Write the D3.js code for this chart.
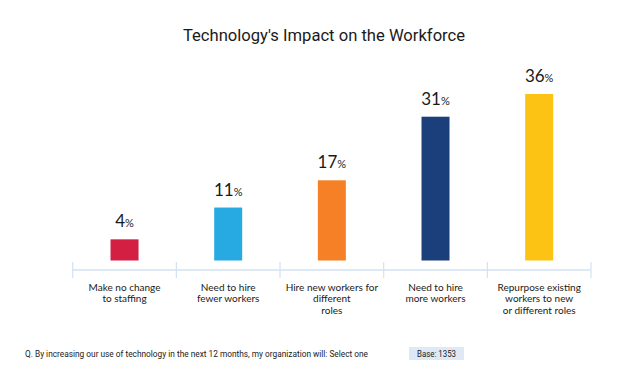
<!DOCTYPE html>
<html>
<head>
<meta charset="utf-8">
<script src="https://cdn.jsdelivr.net/npm/d3@7"></script>
<style>
  body { margin: 0; background: #fff; }
  svg { display: block; }
</style>
</head>
<body>
<div id="chart"></div>
<script>
// data
var categories = ["Make no change to staffing", "Need to hire fewer workers", "Hire new workers for different roles", "Need to hire more workers", "Repurpose existing workers to new or different roles"];
var labelLines = [
  ["Make no change", "to staffing"],
  ["Need to hire", "fewer workers"],
  ["Hire new workers for", "different", "roles"],
  ["Need to hire", "more workers"],
  ["Repurpose existing", "workers to new", "or different roles"]
];
var values = [4, 11, 17, 31, 36];
var colors = ["#d31f42", "#27aae1", "#f58025", "#1b3f7a", "#fcc314"];

var width = 630, height = 374;
var svg = d3.select("#chart").append("svg")
  .attr("width", width)
  .attr("height", height);

// title
svg.append("text")
  .attr("x", 324)
  .attr("y", 41)
  .attr("text-anchor", "middle")
  .attr("font-family", "Roboto, sans-serif")
  .attr("font-size", "16.6px")
  .attr("fill", "#1a1a1a")
  .text("Technology's Impact on the Workforce");

var x = d3.scaleBand()
  .domain(categories)
  .range([72.7, 591]);

var y = d3.scaleLinear()
  .domain([0, 36])
  .range([257.5, 94]);

var barW = 28;
var baseY = 260.5;

// axis line + ticks
var axisY = 270;
var ax = svg.append("g");
ax.append("line")
  .attr("x1", x.range()[0]).attr("x2", x.range()[1])
  .attr("y1", axisY).attr("y2", axisY)
  .attr("stroke", "#d3e2f3").attr("stroke-width", 1.5);
var tickXs = categories.map(function(d) { return x(d); }).concat([x.range()[1]]);
ax.selectAll(".tick")
  .data(tickXs)
  .enter().append("line")
  .attr("class", "tick")
  .attr("x1", function(d) { return d; }).attr("x2", function(d) { return d; })
  .attr("y1", 262).attr("y2", 278)
  .attr("stroke", "#d3e2f3").attr("stroke-width", 1.2);

// bars
svg.selectAll(".bar")
  .data(values)
  .enter().append("rect")
  .attr("class", "bar")
  .attr("x", function(d, i) { return x(categories[i]) + x.bandwidth() / 2 - barW / 2; })
  .attr("y", function(d) { return y(d); })
  .attr("width", barW)
  .attr("height", function(d) { return baseY - y(d); })
  .attr("fill", function(d, i) { return colors[i]; });

// value labels
var vl = svg.selectAll(".val")
  .data(values)
  .enter().append("text")
  .attr("class", "val")
  .attr("x", function(d, i) { return x(categories[i]) + x.bandwidth() / 2; })
  .attr("y", function(d) { return y(d) - 12; })
  .attr("text-anchor", "middle")
  .attr("font-family", "Lato, sans-serif")
  .attr("fill", "#1a1a1a");
vl.append("tspan")
  .attr("font-size", "17px")
  .text(function(d) { return d; });
vl.append("tspan")
  .attr("font-size", "11px")
  .text("%");

// category labels
svg.selectAll(".cat")
  .data(labelLines)
  .enter().append("text")
  .attr("class", "cat")
  .attr("text-anchor", "middle")
  .attr("font-family", "Lato, sans-serif")
  .attr("font-size", "10px")
  .attr("fill", "#1a1a1a")
  .each(function(lines, i) {
    var t = d3.select(this);
    lines.forEach(function(line, j) {
      t.append("tspan")
        .attr("x", x(categories[i]) + x.bandwidth() / 2)
        .attr("y", 290.5 + j * 11.7)
        .text(line);
    });
  });

// footer
svg.append("text")
  .attr("x", 25)
  .attr("y", 357)
  .attr("font-family", "Roboto, sans-serif")
  .attr("font-size", "8.5px")
  .attr("fill", "#1a1a1a")
  .attr("textLength", 343)
  .attr("lengthAdjust", "spacingAndGlyphs")
  .text("Q. By increasing our use of technology in the next 12 months, my organization will:  Select one");

svg.append("rect")
  .attr("x", 409).attr("y", 347)
  .attr("width", 55).attr("height", 13)
  .attr("fill", "#dfe9f5");
svg.append("text")
  .attr("x", 436.5)
  .attr("y", 357)
  .attr("text-anchor", "middle")
  .attr("font-family", "Roboto, sans-serif")
  .attr("font-size", "8.5px")
  .attr("fill", "#1a1a1a")
  .attr("textLength", 39)
  .attr("lengthAdjust", "spacingAndGlyphs")
  .text("Base: 1353");
</script>
</body>
</html>
